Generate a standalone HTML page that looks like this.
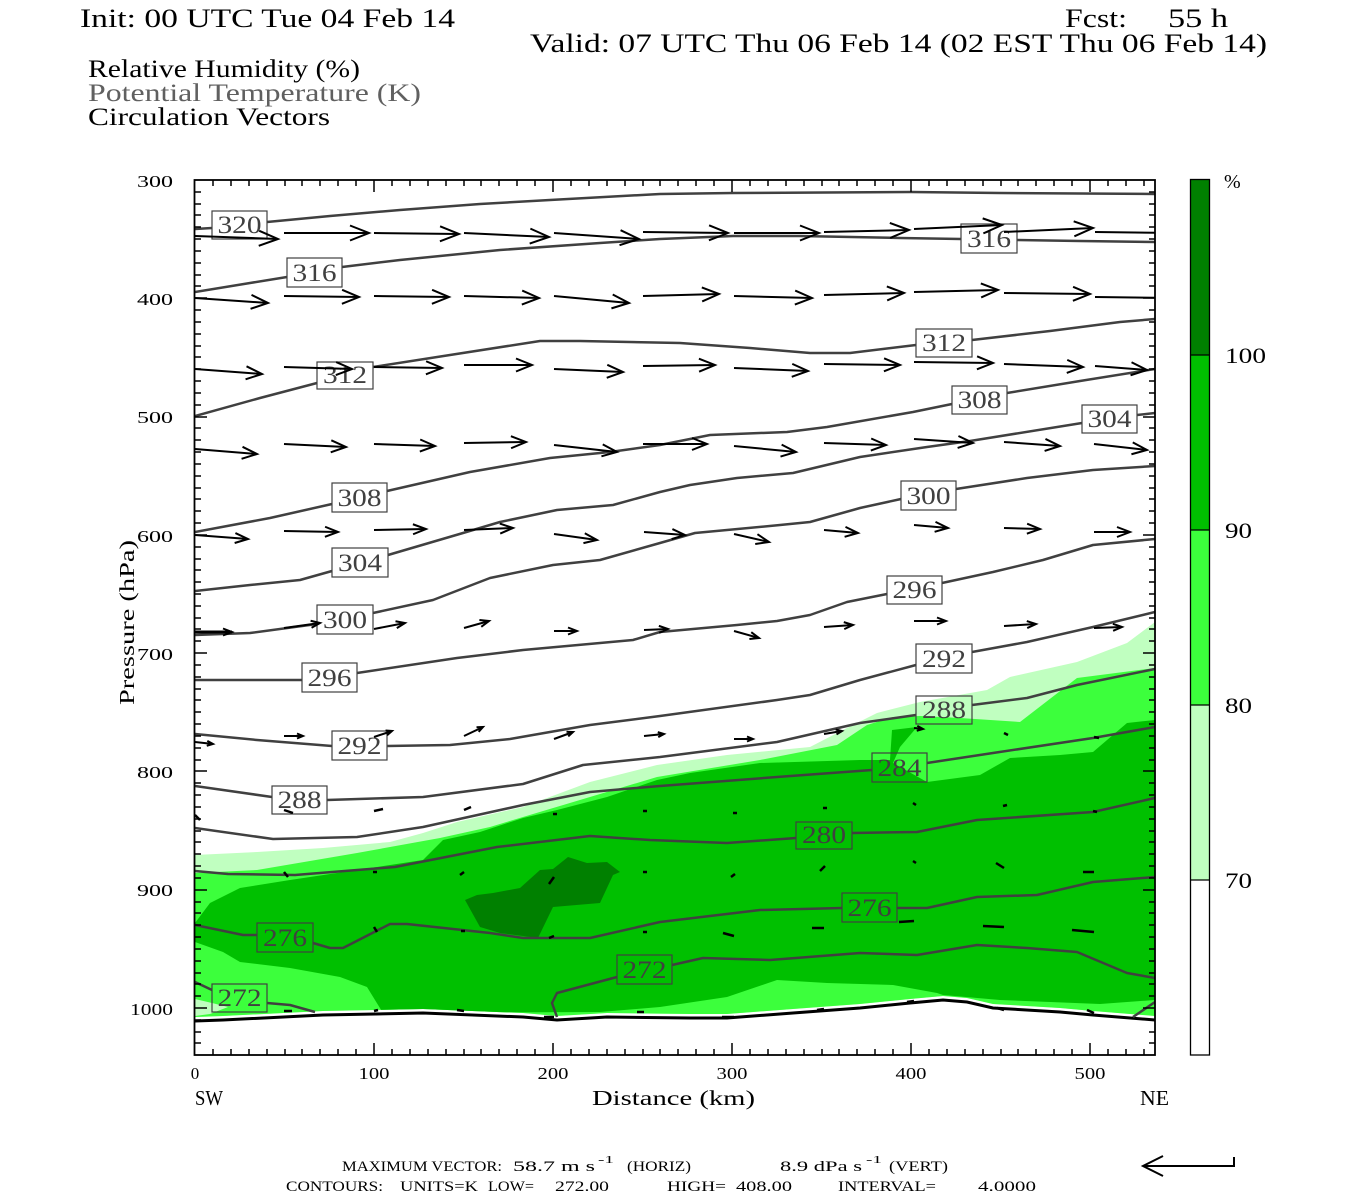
<!DOCTYPE html>
<html><head><meta charset="utf-8"><style>
html,body{margin:0;padding:0;background:#fff;}
svg{display:block;}
text{font-family:"Liberation Serif",serif;}
</style></head><body>
<svg width="1350" height="1200" viewBox="0 0 1350 1200" xmlns="http://www.w3.org/2000/svg">
<defs>
<clipPath id="pc"><rect x="195" y="180" width="960" height="875"/></clipPath>
<clipPath id="gc"><path d="M195,180 L1155,180 L1155,1016 1093,1011 1060,1008 993,1004 967,998 943,996 910,999 860,1004 793,1009 727,1014 690,1014 607,1013 557,1016 523,1013 423,1009 323,1011 223,1016 195,1017 Z"/></clipPath>
<marker id="a19" markerUnits="userSpaceOnUse" orient="auto" viewBox="-30 -15 40 30" markerWidth="40" markerHeight="30" refX="0" refY="0"><path d="M-19,-7.5L0,0L-19,7.5" fill="none" stroke="#000" stroke-width="2"/></marker>
<marker id="a17" markerUnits="userSpaceOnUse" orient="auto" viewBox="-30 -15 40 30" markerWidth="40" markerHeight="30" refX="0" refY="0"><path d="M-17,-7L0,0L-17,7" fill="none" stroke="#000" stroke-width="2"/></marker>
<marker id="a16" markerUnits="userSpaceOnUse" orient="auto" viewBox="-30 -15 40 30" markerWidth="40" markerHeight="30" refX="0" refY="0"><path d="M-16,-6.5L0,0L-16,6.5" fill="none" stroke="#000" stroke-width="2"/></marker>
<marker id="a15" markerUnits="userSpaceOnUse" orient="auto" viewBox="-30 -15 40 30" markerWidth="40" markerHeight="30" refX="0" refY="0"><path d="M-15,-6L0,0L-15,6" fill="none" stroke="#000" stroke-width="2"/></marker>
<marker id="a13" markerUnits="userSpaceOnUse" orient="auto" viewBox="-30 -15 40 30" markerWidth="40" markerHeight="30" refX="0" refY="0"><path d="M-13,-5L0,0L-13,5" fill="none" stroke="#000" stroke-width="2"/></marker>
<marker id="a9" markerUnits="userSpaceOnUse" orient="auto" viewBox="-30 -15 40 30" markerWidth="40" markerHeight="30" refX="0" refY="0"><path d="M-9,-3.5L0,0L-9,3.5" fill="none" stroke="#000" stroke-width="2"/></marker>
<marker id="a6" markerUnits="userSpaceOnUse" orient="auto" viewBox="-30 -15 40 30" markerWidth="40" markerHeight="30" refX="0" refY="0"><path d="M-6,-2.5L0,0L-6,2.5" fill="none" stroke="#000" stroke-width="2"/></marker>
</defs>

<!-- Titles -->
<text x="80" y="27" font-size="26" textLength="375" lengthAdjust="spacingAndGlyphs">Init: 00 UTC Tue 04 Feb 14</text>
<text x="1065" y="27" font-size="26" textLength="62" lengthAdjust="spacingAndGlyphs">Fcst:</text>
<text x="1168" y="27" font-size="26" textLength="60" lengthAdjust="spacingAndGlyphs">55 h</text>
<text x="530" y="52" font-size="26" textLength="737" lengthAdjust="spacingAndGlyphs">Valid: 07 UTC Thu 06 Feb 14 (02 EST Thu 06 Feb 14)</text>
<text x="88" y="77" font-size="25" textLength="272" lengthAdjust="spacingAndGlyphs">Relative Humidity (%)</text>
<text x="88" y="101" font-size="25" fill="#606060" textLength="333" lengthAdjust="spacingAndGlyphs">Potential Temperature (K)</text>
<text x="88" y="125" font-size="25" textLength="242" lengthAdjust="spacingAndGlyphs">Circulation Vectors</text>

<!-- Fills -->
<g clip-path="url(#gc)">
<path fill="#C0FFC0" d="M195,855 L257,852 323,848 390,842 423,833 457,822 523,807 590,782 657,765 727,755 810,747 843,730 877,713 920,702 987,690 1010,677 1077,662 1127,643 1155,622 L1155,1055 195,1055 Z"/>
<path fill="#3CFF3C" d="M195,873 L257,870 357,853 440,838 490,827 523,817 590,797 657,777 760,760 837,745 867,725 893,717 920,716 960,718 1020,722 1077,678 1155,668 L1155,1055 195,1055 Z"/>
<path fill="#00C000" d="M195,923 L210,903 240,888 290,880 357,870 423,860 443,840 480,832 523,818 557,810 607,797 657,780 690,773 760,763 860,760 890,760 892,730 917,727 900,747 893,763 927,782 980,775 1010,758 1060,755 1093,752 1127,723 1155,720 L1155,1000 1100,1004 1000,1000 943,995 937,993 893,985 827,983 777,980 727,997 660,1007 600,1012 383,1013 367,987 340,977 290,968 240,962 223,952 195,942 Z"/>
<path fill="#008000" d="M465,900 L477,895 493,893 520,888 540,870 553,869 568,857 587,863 607,862 620,872 613,875 600,903 553,907 538,938 500,933 480,927 Z"/>
<path fill="#C0FFC0" d="M195,999 L212,1003 228,1007 210,1014 195,1016 Z"/>
</g>

<!-- Ground line -->
<polyline fill="none" stroke="#000" stroke-width="3" points="195,1021 223,1020 323,1015 423,1013 523,1017 557,1020 607,1017 690,1018 727,1018 793,1013 860,1008 910,1003 943,1000 967,1002 993,1008 1060,1012 1093,1015 1155,1020"/>

<!-- Contours -->
<g clip-path="url(#pc)" fill="none" stroke="#404040" stroke-width="2.5" stroke-linejoin="round">
<polyline points="195,229 212,228"/>
<polyline points="267,222 330,216 400,210 480,204 550,200 660,194 733,193 911,192 1000,193 1155,194"/>
<polyline points="195,292 250,283 287,277"/>
<polyline points="342,267 400,260 500,250 600,243 660,239 733,236 800,236 900,238 961,239"/>
<polyline points="1017,240 1080,241 1155,242"/>
<polyline points="195,416 260,398 317,383"/>
<polyline points="373,367 450,355 540,341 580,341 680,343 750,348 810,353 850,353 916,345"/>
<polyline points="972,340 1050,331 1120,322 1155,319"/>
<polyline points="195,532 270,518 332,504"/>
<polyline points="387,491 470,472 550,458 610,452 660,445 710,435 787,432 827,427 913,412 952,404"/>
<polyline points="1007,393 1080,381 1155,369"/>
<polyline points="195,591 250,585 300,580 332,571"/>
<polyline points="388,555 463,533 500,522 557,510 613,505 660,492 690,485 737,478 793,473 860,457 927,447 970,441 1082,423"/>
<polyline points="1137,415 1155,413"/>
<polyline points="195,635 250,633 317,624"/>
<polyline points="373,613 433,600 490,578 553,565 600,560 660,543 695,533 780,525 810,522 860,508 901,499"/>
<polyline points="956,489 1027,478 1093,470 1155,466"/>
<polyline points="195,680 302,680"/>
<polyline points="357,673 457,658 523,650 633,640 660,632 737,625 777,621 810,615 847,602 887,594"/>
<polyline points="942,583 993,572 1043,560 1093,545 1155,539"/>
<polyline points="195,734 257,740 332,746"/>
<polyline points="387,746 450,745 510,739 590,725 660,716 777,700 810,695 860,680 916,665"/>
<polyline points="972,652 1027,642 1093,627 1155,612"/>
<polyline points="195,786 272,797"/>
<polyline points="327,800 423,797 523,784 583,765 660,757 777,742 860,723 916,715"/>
<polyline points="972,705 1027,698 1077,685 1155,669"/>
<polyline points="195,828 273,839 357,837 423,827 523,805 590,792 660,786 777,777 872,770"/>
<polyline points="927,763 993,753 1093,738 1155,727"/>
<polyline points="195,871 228,874 295,875 395,867 497,847 590,836 650,840 727,843 796,838"/>
<polyline points="852,833 917,832 977,820 1093,812 1155,798"/>
<polyline points="195,925 243,935 257,935"/>
<polyline points="313,943 330,948 343,948 390,924 407,924 490,933 523,938 590,938 660,922 760,910 842,908"/>
<polyline points="897,908 927,908 977,897 1037,895 1093,882 1155,877"/>
<polyline points="195,982 212,990"/>
<polyline points="267,1003 290,1005 315,1012"/>
<polyline points="557,1017 552,1003 557,993 617,977"/>
<polyline points="672,965 703,958 770,960 860,953 917,955 977,945 1027,948 1077,952 1127,973 1155,978"/>
<polyline points="1133,1017 1155,1002"/>
</g>

<!-- Contour label boxes -->
<g fill="none" stroke="#404040" stroke-width="1.2">
<rect x="212" y="211" width="55" height="28"/>
<rect x="287" y="258" width="55" height="29"/>
<rect x="961" y="224" width="56" height="29"/>
<rect x="317" y="362" width="56" height="27"/>
<rect x="916" y="329" width="56" height="28"/>
<rect x="332" y="483" width="55" height="29"/>
<rect x="952" y="386" width="55" height="28"/>
<rect x="332" y="548" width="56" height="29"/>
<rect x="1082" y="405" width="55" height="28"/>
<rect x="317" y="605" width="56" height="29"/>
<rect x="901" y="481" width="55" height="29"/>
<rect x="302" y="663" width="55" height="29"/>
<rect x="887" y="576" width="55" height="28"/>
<rect x="332" y="731" width="55" height="29"/>
<rect x="916" y="644" width="56" height="29"/>
<rect x="272" y="786" width="55" height="28"/>
<rect x="916" y="696" width="56" height="28"/>
<rect x="872" y="753" width="55" height="29"/>
<rect x="796" y="822" width="56" height="27"/>
<rect x="257" y="923" width="56" height="29"/>
<rect x="842" y="893" width="55" height="29"/>
<rect x="212" y="984" width="55" height="28"/>
<rect x="617" y="955" width="55" height="29"/>
</g>
<g fill="#404040" font-size="25" text-anchor="middle">
<text x="239.5" y="233" textLength="44" lengthAdjust="spacingAndGlyphs">320</text>
<text x="314.5" y="281" textLength="44" lengthAdjust="spacingAndGlyphs">316</text>
<text x="989" y="247" textLength="44" lengthAdjust="spacingAndGlyphs">316</text>
<text x="345" y="383" textLength="44" lengthAdjust="spacingAndGlyphs">312</text>
<text x="944" y="351" textLength="44" lengthAdjust="spacingAndGlyphs">312</text>
<text x="359.5" y="506" textLength="44" lengthAdjust="spacingAndGlyphs">308</text>
<text x="979.5" y="408" textLength="44" lengthAdjust="spacingAndGlyphs">308</text>
<text x="360" y="571" textLength="44" lengthAdjust="spacingAndGlyphs">304</text>
<text x="1109.5" y="427" textLength="44" lengthAdjust="spacingAndGlyphs">304</text>
<text x="345" y="628" textLength="44" lengthAdjust="spacingAndGlyphs">300</text>
<text x="928.5" y="504" textLength="44" lengthAdjust="spacingAndGlyphs">300</text>
<text x="329.5" y="686" textLength="44" lengthAdjust="spacingAndGlyphs">296</text>
<text x="914.5" y="598" textLength="44" lengthAdjust="spacingAndGlyphs">296</text>
<text x="359.5" y="754" textLength="44" lengthAdjust="spacingAndGlyphs">292</text>
<text x="944" y="667" textLength="44" lengthAdjust="spacingAndGlyphs">292</text>
<text x="299.5" y="808" textLength="44" lengthAdjust="spacingAndGlyphs">288</text>
<text x="944" y="718" textLength="44" lengthAdjust="spacingAndGlyphs">288</text>
<text x="899.5" y="776" textLength="44" lengthAdjust="spacingAndGlyphs">284</text>
<text x="824" y="843" textLength="44" lengthAdjust="spacingAndGlyphs">280</text>
<text x="285" y="946" textLength="44" lengthAdjust="spacingAndGlyphs">276</text>
<text x="869.5" y="916" textLength="44" lengthAdjust="spacingAndGlyphs">276</text>
<text x="239.5" y="1006" textLength="44" lengthAdjust="spacingAndGlyphs">272</text>
<text x="644.5" y="978" textLength="44" lengthAdjust="spacingAndGlyphs">272</text>
</g>

<!-- Vectors -->
<g clip-path="url(#pc)" fill="none" stroke="#000" stroke-width="2">
<g marker-end="url(#a19)">
<path d="M195,236L278,239"/><path d="M284,233L369,233"/><path d="M374,233L459,234"/><path d="M464,233L549,237"/><path d="M554,233L639,239"/><path d="M643,232L728,233"/><path d="M734,233L819,233"/><path d="M824,232L909,230"/><path d="M914,229L1002,225"/><path d="M1004,232L1093,228"/>
</g>
<path d="M1095,232L1180,233"/>
<g marker-end="url(#a17)">
<path d="M195,298L268,303"/><path d="M284,296L359,297"/><path d="M374,296L449,297"/><path d="M464,296L539,298"/><path d="M554,296L629,303"/><path d="M643,296L719,294"/><path d="M734,296L812,298"/><path d="M824,295L904,293"/><path d="M914,292L998,290"/><path d="M1004,293L1090,294"/>
</g>
<path d="M1095,297L1175,298"/>
<g marker-end="url(#a16)">
<path d="M195,369L262,374"/><path d="M284,367L352,369"/><path d="M374,367L442,368"/><path d="M464,365L532,365"/><path d="M554,369L623,372"/><path d="M643,366L715,365"/><path d="M734,368L808,371"/><path d="M824,364L900,365"/><path d="M914,362L993,363"/><path d="M1004,364L1083,367"/><path d="M1095,366L1147,370"/>
</g>
<g marker-end="url(#a15)">
<path d="M195,449L257,454"/><path d="M284,444L346,447"/><path d="M374,444L435,446"/><path d="M464,443L526,442"/><path d="M554,445L617,452"/><path d="M643,444L707,444"/><path d="M734,446L796,452"/><path d="M824,443L886,445"/><path d="M914,439L973,443"/><path d="M1004,442L1060,446"/><path d="M1094,444L1147,450"/>
</g>
<g marker-end="url(#a13)">
<path d="M195,535L248,539"/><path d="M284,531L338,532"/><path d="M374,530L426,529"/><path d="M464,530L513,528"/><path d="M554,534L597,540"/><path d="M644,532L685,535"/><path d="M734,534L769,542"/><path d="M824,530L858,533"/><path d="M914,525L948,528"/><path d="M1004,528L1040,529"/><path d="M1094,532L1130,532"/>
</g>
<g marker-end="url(#a9)">
<path d="M195,632L232,632" stroke-width="3"/><path d="M284,628L320,623"/><path d="M374,629L405,623"/><path d="M464,628L489,621"/><path d="M554,631L577,631"/><path d="M644,630L668,629"/><path d="M734,631L759,638"/><path d="M824,627L853,625"/><path d="M914,621L946,621"/><path d="M1004,626L1036,624"/><path d="M1094,628L1122,627"/>
</g>
<g marker-end="url(#a6)">
<path d="M195,742L213,744"/><path d="M284,736L303,736"/><path d="M374,737L392,731"/><path d="M464,736L483,727"/><path d="M554,739L573,732"/><path d="M644,736L664,734"/><path d="M734,739L753,739"/><path d="M824,734L842,731"/><path d="M914,728L923,729"/>
</g>
<g stroke-width="2.5">
<path d="M1004,733L1008,735"/><path d="M1094,737L1099,738"/>
<path d="M195,815L200,820"/><path d="M284,810L293,813"/><path d="M374,811L383,809"/><path d="M464,810L471,807"/><path d="M553,814L557,814"/><path d="M643,811L647,811"/><path d="M733,813L737,813"/><path d="M823,808L827,808"/><path d="M913,803L916,805"/><path d="M1003,806L1007,805"/><path d="M1093,811L1097,812"/>
<path d="M284,872L288,877"/><path d="M373,872L377,872"/><path d="M464,872L460,875"/><path d="M554,877L549,884"/><path d="M643,872L647,872"/><path d="M735,874L731,877"/><path d="M825,866L820,871"/><path d="M913,861L916,863"/><path d="M1004,868L996,863"/><path d="M1094,872L1083,872"/>
<path d="M374,927L377,932"/><path d="M465,931L461,931"/><path d="M554,936L549,938"/><path d="M643,932L647,932"/><path d="M734,936L723,933"/><path d="M824,928L812,928"/><path d="M914,921L899,922"/><path d="M1004,927L983,926"/><path d="M1094,932L1072,930"/>
<path d="M284,1011L292,1011"/><path d="M374,1011L378,1010"/><path d="M464,1011L457,1010"/><path d="M554,1017L544,1017"/><path d="M644,1012L637,1012"/><path d="M734,1017L722,1017"/><path d="M824,1009L817,1010"/><path d="M914,1001L907,1002"/><path d="M1004,1010L997,1008"/><path d="M1094,1013L1087,1010"/>
</g>
</g>

<!-- Frame & ticks -->
<rect x="194.5" y="180" width="960.5" height="875" fill="none" stroke="#000" stroke-width="1.8"/>
<path fill="none" stroke="#000" stroke-width="1.5" d="
M195,192h6 M195,204h6 M195,215h6 M195,227h6 M195,239h6 M195,251h6 M195,263h6 M195,275h6 M195,286h6 M195,298h12 M195,310h6 M195,322h6 M195,334h6 M195,346h6 M195,357h6 M195,369h6 M195,381h6 M195,393h6 M195,405h6 M195,417h12 M195,428h6 M195,440h6 M195,452h6 M195,464h6 M195,476h6 M195,488h6 M195,499h6 M195,511h6 M195,523h6 M195,535h12 M195,547h6 M195,559h6 M195,570h6 M195,582h6 M195,594h6 M195,606h6 M195,618h6 M195,629h6 M195,641h6 M195,653h12 M195,665h6 M195,677h6 M195,689h6 M195,700h6 M195,712h6 M195,724h6 M195,736h6 M195,748h6 M195,760h6 M195,771h12 M195,783h6 M195,795h6 M195,807h6 M195,819h6 M195,831h6 M195,842h6 M195,854h6 M195,866h6 M195,878h6 M195,890h12 M195,902h6 M195,913h6 M195,925h6 M195,937h6 M195,949h6 M195,961h6 M195,973h6 M195,984h6 M195,996h6 M195,1008h12 M195,1020h6 M195,1032h6 M195,1043h6
M1155,192h-6 M1155,204h-6 M1155,215h-6 M1155,227h-6 M1155,239h-6 M1155,251h-6 M1155,263h-6 M1155,275h-6 M1155,286h-6 M1155,298h-12 M1155,310h-6 M1155,322h-6 M1155,334h-6 M1155,346h-6 M1155,357h-6 M1155,369h-6 M1155,381h-6 M1155,393h-6 M1155,405h-6 M1155,417h-12 M1155,428h-6 M1155,440h-6 M1155,452h-6 M1155,464h-6 M1155,476h-6 M1155,488h-6 M1155,499h-6 M1155,511h-6 M1155,523h-6 M1155,535h-12 M1155,547h-6 M1155,559h-6 M1155,570h-6 M1155,582h-6 M1155,594h-6 M1155,606h-6 M1155,618h-6 M1155,629h-6 M1155,641h-6 M1155,653h-12 M1155,665h-6 M1155,677h-6 M1155,689h-6 M1155,700h-6 M1155,712h-6 M1155,724h-6 M1155,736h-6 M1155,748h-6 M1155,760h-6 M1155,771h-12 M1155,783h-6 M1155,795h-6 M1155,807h-6 M1155,819h-6 M1155,831h-6 M1155,842h-6 M1155,854h-6 M1155,866h-6 M1155,878h-6 M1155,890h-12 M1155,902h-6 M1155,913h-6 M1155,925h-6 M1155,937h-6 M1155,949h-6 M1155,961h-6 M1155,973h-6 M1155,984h-6 M1155,996h-6 M1155,1008h-12 M1155,1020h-6 M1155,1032h-6 M1155,1043h-6
M213,1055v-6 M231,1055v-6 M249,1055v-6 M267,1055v-6 M285,1055v-6 M302,1055v-6 M320,1055v-6 M338,1055v-6 M356,1055v-6 M374,1055v-12 M392,1055v-6 M410,1055v-6 M428,1055v-6 M446,1055v-6 M464,1055v-6 M481,1055v-6 M499,1055v-6 M517,1055v-6 M535,1055v-6 M553,1055v-12 M571,1055v-6 M589,1055v-6 M607,1055v-6 M625,1055v-6 M643,1055v-6 M660,1055v-6 M678,1055v-6 M696,1055v-6 M714,1055v-6 M732,1055v-12 M750,1055v-6 M768,1055v-6 M786,1055v-6 M804,1055v-6 M822,1055v-6 M839,1055v-6 M857,1055v-6 M875,1055v-6 M893,1055v-6 M911,1055v-12 M929,1055v-6 M947,1055v-6 M965,1055v-6 M983,1055v-6 M1001,1055v-6 M1018,1055v-6 M1036,1055v-6 M1054,1055v-6 M1072,1055v-6 M1090,1055v-12 M1108,1055v-6 M1126,1055v-6 M1144,1055v-6
M213,180v6 M231,180v6 M249,180v6 M267,180v6 M285,180v6 M302,180v6 M320,180v6 M338,180v6 M356,180v6 M374,180v12 M392,180v6 M410,180v6 M428,180v6 M446,180v6 M464,180v6 M481,180v6 M499,180v6 M517,180v6 M535,180v6 M553,180v12 M571,180v6 M589,180v6 M607,180v6 M625,180v6 M643,180v6 M660,180v6 M678,180v6 M696,180v6 M714,180v6 M732,180v12 M750,180v6 M768,180v6 M786,180v6 M804,180v6 M822,180v6 M839,180v6 M857,180v6 M875,180v6 M893,180v6 M911,180v12 M929,180v6 M947,180v6 M965,180v6 M983,180v6 M1001,180v6 M1018,180v6 M1036,180v6 M1054,180v6 M1072,180v6 M1090,180v12 M1108,180v6 M1126,180v6 M1144,180v6"/>

<!-- Axis labels -->
<g font-size="17" text-anchor="end">
<text x="173" y="187" textLength="36" lengthAdjust="spacingAndGlyphs">300</text>
<text x="173" y="305" textLength="36" lengthAdjust="spacingAndGlyphs">400</text>
<text x="173" y="423" textLength="36" lengthAdjust="spacingAndGlyphs">500</text>
<text x="173" y="542" textLength="36" lengthAdjust="spacingAndGlyphs">600</text>
<text x="173" y="660" textLength="36" lengthAdjust="spacingAndGlyphs">700</text>
<text x="173" y="778" textLength="36" lengthAdjust="spacingAndGlyphs">800</text>
<text x="173" y="896" textLength="36" lengthAdjust="spacingAndGlyphs">900</text>
<text x="173" y="1015" textLength="43" lengthAdjust="spacingAndGlyphs">1000</text>
</g>
<g font-size="17" text-anchor="middle">
<text x="195" y="1079">0</text>
<text x="374" y="1079" textLength="31" lengthAdjust="spacingAndGlyphs">100</text>
<text x="553" y="1079" textLength="31" lengthAdjust="spacingAndGlyphs">200</text>
<text x="732" y="1079" textLength="31" lengthAdjust="spacingAndGlyphs">300</text>
<text x="911" y="1079" textLength="31" lengthAdjust="spacingAndGlyphs">400</text>
<text x="1090" y="1079" textLength="31" lengthAdjust="spacingAndGlyphs">500</text>
</g>
<text x="195" y="1105" font-size="21" textLength="28" lengthAdjust="spacingAndGlyphs">SW</text>
<text x="592" y="1105" font-size="21" textLength="163" lengthAdjust="spacingAndGlyphs">Distance (km)</text>
<text x="1140" y="1105" font-size="21" textLength="29" lengthAdjust="spacingAndGlyphs">NE</text>
<text transform="translate(134,705) rotate(-90)" x="0" y="0" font-size="21" textLength="165" lengthAdjust="spacingAndGlyphs">Pressure (hPa)</text>

<!-- Colorbar -->
<rect x="1190" y="179" width="19.5" height="176" fill="#008000"/>
<rect x="1190" y="355" width="19.5" height="175" fill="#00C000"/>
<rect x="1190" y="530" width="19.5" height="175" fill="#3CFF3C"/>
<rect x="1190" y="705" width="19.5" height="175" fill="#C0FFC0"/>
<rect x="1190" y="880" width="19.5" height="175" fill="#FFFFFF"/>
<rect x="1190.5" y="179.5" width="19" height="875.5" fill="none" stroke="#000" stroke-width="1.3"/>
<path d="M1190,355H1210M1190,530H1210M1190,705H1210M1190,880H1210" stroke="#000" stroke-width="1.3"/>
<g font-size="22">
<text x="1224" y="188" font-size="20">%</text>
<text x="1225" y="363" textLength="41" lengthAdjust="spacingAndGlyphs">100</text>
<text x="1225" y="538" textLength="27" lengthAdjust="spacingAndGlyphs">90</text>
<text x="1225" y="713" textLength="27" lengthAdjust="spacingAndGlyphs">80</text>
<text x="1225" y="888" textLength="27" lengthAdjust="spacingAndGlyphs">70</text>
</g>

<!-- Footer -->
<g font-size="15">
<text x="342" y="1171" textLength="160" lengthAdjust="spacingAndGlyphs">MAXIMUM VECTOR:</text>
<text x="513" y="1171" textLength="82" lengthAdjust="spacingAndGlyphs">58.7 m s</text>
<text x="598" y="1163" font-size="10" textLength="16" lengthAdjust="spacingAndGlyphs">-1</text>
<text x="627" y="1171" textLength="64" lengthAdjust="spacingAndGlyphs">(HORIZ)</text>
<text x="780" y="1171" textLength="82" lengthAdjust="spacingAndGlyphs">8.9 dPa s</text>
<text x="866" y="1163" font-size="10" textLength="16" lengthAdjust="spacingAndGlyphs">-1</text>
<text x="889" y="1171" textLength="59" lengthAdjust="spacingAndGlyphs">(VERT)</text>
<text x="286" y="1191" textLength="97" lengthAdjust="spacingAndGlyphs">CONTOURS:</text>
<text x="400" y="1191" textLength="78" lengthAdjust="spacingAndGlyphs">UNITS=K</text>
<text x="488" y="1191" textLength="46" lengthAdjust="spacingAndGlyphs">LOW=</text>
<text x="555" y="1191" textLength="54" lengthAdjust="spacingAndGlyphs">272.00</text>
<text x="667" y="1191" textLength="59" lengthAdjust="spacingAndGlyphs">HIGH=</text>
<text x="736" y="1191" textLength="56" lengthAdjust="spacingAndGlyphs">408.00</text>
<text x="838" y="1191" textLength="98" lengthAdjust="spacingAndGlyphs">INTERVAL=</text>
<text x="978" y="1191" textLength="58" lengthAdjust="spacingAndGlyphs">4.0000</text>
</g>
<path d="M1163,1156L1143,1166L1163,1176M1143,1166H1234V1157" fill="none" stroke="#000" stroke-width="2"/>
</svg>
</body></html>
